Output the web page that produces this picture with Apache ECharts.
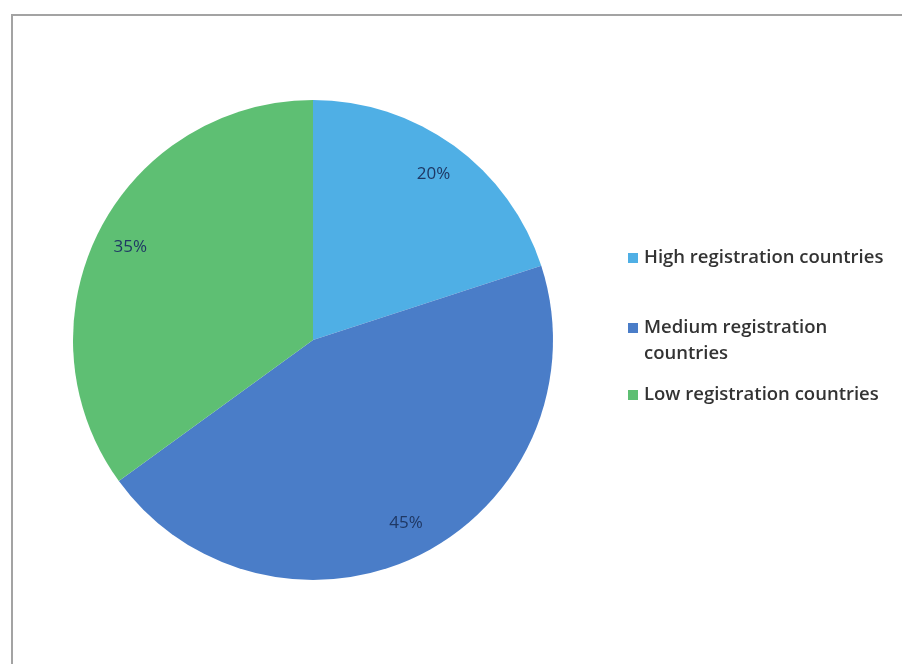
<!DOCTYPE html>
<html>
<head>
<meta charset="utf-8">
<script src="https://cdn.jsdelivr.net/npm/echarts@6/dist/echarts.min.js"></script>
<style>html,body{margin:0;padding:0;background:#fff}#c{width:902px;height:664px}</style>
</head>
<body>
<div id="c"></div>
<script>
var categories = ['High registration countries', 'Medium registration\ncountries', 'Low registration countries'];
var shares = [20, 45, 35];
var colors = ['#4fafe5', '#4a7dc8', '#5ebf73'];

var data = categories.map(function (n, i) { return { name: n, value: shares[i], itemStyle: { color: colors[i] } }; });
var font = '"Open Sans", Lato, sans-serif';
function mkLegend(name, top) {
  var twoLine = name.indexOf('\n') >= 0;
  return {
    data: [name], orient: 'vertical', left: 628, top: top, padding: 0,
    icon: twoLine ? 'path://M0,0h10v10h-10z M0,35.99h0.01v0.01h-0.01z' : 'rect',
    itemWidth: 10, itemHeight: twoLine ? 36 : 10, itemGap: 0,
    selectedMode: false,
    textStyle: { fontFamily: font, fontSize: 18.5, fontWeight: 600, color: '#333333', lineHeight: 26, padding: [0, 0, 0, 1] }
  };
}
var chart = echarts.init(document.getElementById('c'));
chart.setOption({
  animation: false,
  legend: [mkLegend(categories[0], 245), mkLegend(categories[1], 315), mkLegend(categories[2], 382)],
  graphic: [{ type: 'rect', shape: { x: 12, y: 15, width: 1000, height: 1000 }, style: { fill: 'none', stroke: '#a3a3a3', lineWidth: 2 }, silent: true }],
  series: [{
    type: 'pie', center: [313, 340], radius: 240, startAngle: 90, clockwise: true,
    label: { show: false }, labelLine: { show: false },
    itemStyle: { borderWidth: 0 },
    emphasis: { disabled: true },
    data: data
  }, {
    type: 'pie', center: [313, 340], radius: [196, 208], startAngle: 90, clockwise: true,
    silent: true, emphasis: { disabled: true },
    itemStyle: { color: 'rgba(0,0,0,0)', borderWidth: 0 },
    label: { show: true, position: 'inside', formatter: '{d}%', fontFamily: font, fontSize: 17, color: '#1f3864' },
    labelLine: { show: false },
    data: categories.map(function (n, i) { return { name: n, value: shares[i] }; })
  }]
});
</script>
</body>
</html>
